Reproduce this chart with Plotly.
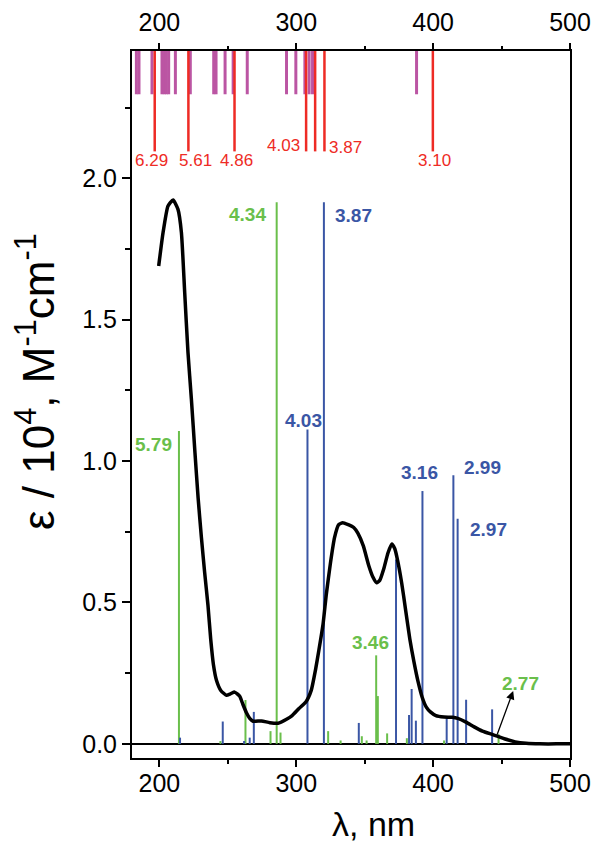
import plotly.graph_objects as go

# ---------------- data ----------------
spec_wl = [199.5, 202.7, 206.3, 210, 213.6, 216.1, 218.5, 220.9, 223.4, 226, 228.3, 230.7, 233,
           235.5, 237.5, 239.5, 241.7, 245, 249, 252, 255, 258.7, 261, 263.6, 266, 268.5, 274.6,
           280.7, 286.7, 292.9, 297, 302, 307, 311, 314, 316.5, 319.5, 322, 325, 328, 331, 334,
           338, 342, 345, 349, 353, 356, 358.7, 361, 364, 367, 369.8, 372, 374, 377, 380, 383,
           386, 389, 392, 395, 398, 402, 408, 414, 418, 424, 430, 436, 444, 452, 460, 468, 478,
           490, 500]
spec_eps = [1.690, 1.808, 1.902, 1.923, 1.890, 1.808, 1.596, 1.384, 1.218, 1.03, 0.87, 0.73, 0.61,
            0.49, 0.37, 0.28, 0.225, 0.188, 0.172, 0.177, 0.183, 0.168, 0.140, 0.110, 0.090, 0.080,
            0.081, 0.075, 0.073, 0.087, 0.100, 0.125, 0.148, 0.19, 0.26, 0.33, 0.42, 0.53, 0.64,
            0.73, 0.775, 0.782, 0.775, 0.765, 0.745, 0.70, 0.63, 0.59, 0.570, 0.578, 0.62, 0.675,
            0.707, 0.69, 0.65, 0.57, 0.47, 0.37, 0.29, 0.22, 0.165, 0.13, 0.113, 0.100, 0.095,
            0.094, 0.090, 0.077, 0.060, 0.045, 0.032, 0.018, 0.007, 0.002, 0.0, 0.0, 0.0]

green_wl = [214.3, 244.6, 262.9, 281.2, 285.7, 288.5, 323.3, 332.4, 347.9, 351.4, 358.4, 359.6,
            366.4, 380.8, 408.0, 447.8]
green_h = [1.106, 0.010, 0.155, 0.045, 1.915, 0.040, 0.045, 0.012, 0.027, 0.012, 0.313, 0.169,
           0.037, 0.020, 0.012, 0.034]

blue_wl = [215.1, 246.3, 261.9, 266.0, 269.0, 308.2, 320.2, 345.7, 372.9, 382.4, 384.3, 387.4,
           392.2, 409.9, 414.8, 417.9, 424.1, 443.1]
blue_h = [0.022, 0.079, 0.010, 0.022, 0.113, 1.112, 1.915, 0.074, 0.652, 0.102, 0.194, 0.082,
          0.894, 0.093, 0.950, 0.796, 0.156, 0.122]

red_wl = [196.6, 221.2, 254.9, 307.2, 313.8, 320.6, 399.8]
magenta_wl = [183.2, 185.1, 194.6, 201.9, 203.6, 205.1, 206.8, 211.7, 222.6, 239.7, 241.4, 248.0,
              253.9, 264.2, 292.9, 299.7, 306.3, 309.4, 311.9, 387.9]

red_labels = ["6.29", "5.61", "4.86", "4.03", "3.87", "3.10"]
red_label_x = [194.0, 226.4, 256.3, 290.4, 335.9, 401.3]
red_label_y = [2.063, 2.063, 2.063, 2.115, 2.110, 2.063]

green_labels = ["5.79", "4.34", "3.46", "2.77"]
green_label_x = [195.9, 264.2, 354.4, 463.5]
green_label_y = [1.060, 1.873, 0.358, 0.214]

blue_labels = ["3.87", "4.03", "3.16", "2.99", "2.97"]
blue_label_x = [342.1, 305.3, 390.1, 436.4, 440.5]
blue_label_y = [1.869, 1.142, 0.959, 0.977, 0.759]

x_ticks = [200, 300, 400, 500]
x_minor = [250, 350, 450]
y_ticks = [0.0, 0.5, 1.0, 1.5, 2.0]
y_minor = [0.25, 0.75, 1.25, 1.75, 2.25]

X_RANGE = [180, 500]
Y_RANGE = [-0.05, 2.45]
TOP = 2.45
RED_BOTTOM = 2.095
MAG_BOTTOM = 2.297

GREEN = "#6abf4b"
BLUE = "#3a56a5"
RED = "#ee2b25"
MAGENTA = "#bb55a3"
FONT = "Liberation Sans, Arial, sans-serif"


def sticks(xs, y0s, y1s):
    px, py = [], []
    for x, a, b in zip(xs, y0s, y1s):
        px += [x, x, None]
        py += [a, b, None]
    return px, py


fig = go.Figure()

gx, gy = sticks(green_wl, [0] * len(green_wl), green_h)
fig.add_trace(go.Scatter(x=gx, y=gy, mode="lines", line=dict(color=GREEN, width=2),
                         hoverinfo="skip", showlegend=False))
bx, by = sticks(blue_wl, [0] * len(blue_wl), blue_h)
fig.add_trace(go.Scatter(x=bx, y=by, mode="lines", line=dict(color=BLUE, width=2),
                         hoverinfo="skip", showlegend=False))
mx, my = sticks(magenta_wl, [TOP] * len(magenta_wl), [MAG_BOTTOM] * len(magenta_wl))
fig.add_trace(go.Scatter(x=mx, y=my, mode="lines", line=dict(color=MAGENTA, width=3),
                         xaxis="x2", hoverinfo="skip", showlegend=False))
rx, ry = sticks(red_wl, [TOP] * len(red_wl), [RED_BOTTOM] * len(red_wl))
fig.add_trace(go.Scatter(x=rx, y=ry, mode="lines", line=dict(color=RED, width=2.5),
                         xaxis="x2", hoverinfo="skip", showlegend=False))

fig.add_trace(go.Scatter(x=spec_wl, y=spec_eps, mode="lines",
                         line=dict(color="black", width=3.5, shape="spline", smoothing=0.5),
                         hoverinfo="skip", showlegend=False))

W, H = 593, 843
ML, MR, MT, MB = 132, 23, 51, 85
pw, ph = W - ML - MR, H - MT - MB


def page_to_paper(px, py):
    return (px - ML) / pw, (H - MB - py) / ph


ann = []
for t, x, y in zip(red_labels, red_label_x, red_label_y):
    ann.append(dict(x=x, y=y, text=t, showarrow=False, xref="x", yref="y",
                    font=dict(family=FONT, size=17, color=RED)))
for t, x, y in zip(green_labels, green_label_x, green_label_y):
    ann.append(dict(x=x, y=y, text="<b>" + t + "</b>", showarrow=False, xref="x", yref="y",
                    font=dict(family=FONT, size=19, color=GREEN)))
for t, x, y in zip(blue_labels, blue_label_x, blue_label_y):
    ann.append(dict(x=x, y=y, text="<b>" + t + "</b>", showarrow=False, xref="x", yref="y",
                    font=dict(family=FONT, size=19, color=BLUE)))
# arrow pointing to the 2.77 transition
ann.append(dict(x=458.5, y=0.187, ax=446.4, ay=0.028, xref="x", yref="y", axref="x", ayref="y",
                text="", showarrow=True, arrowhead=2, arrowsize=1.3, arrowwidth=1.3,
                arrowcolor="black"))
# axis titles
tx, ty = page_to_paper(373, 824)
ann.append(dict(x=tx, y=ty, xref="paper", yref="paper", text="λ, nm", showarrow=False,
                xanchor="center", yanchor="middle",
                font=dict(family=FONT, size=34, color="black")))
tx, ty = page_to_paper(36, 382)
ann.append(dict(x=tx, y=ty, xref="paper", yref="paper",
                text="ε / 10<sup>4</sup>, M<sup>-1</sup>cm<sup>-1</sup>",
                showarrow=False, textangle=-90, xanchor="center", yanchor="middle",
                font=dict(family=FONT, size=44, color="black")))

axis_font = dict(family=FONT, size=25, color="black")
common_x = dict(range=X_RANGE, tickmode="array", tickvals=x_ticks, ticks="outside", ticklen=7,
                tickwidth=2, tickcolor="black", showgrid=False, zeroline=False,
                tickfont=axis_font, automargin=False, ticklabeloverflow="allow",
                minor=dict(tickmode="array", tickvals=x_minor, ticks="outside", ticklen=4,
                           tickwidth=2, tickcolor="black", showgrid=False))

fig.update_layout(
    width=W, height=H,
    margin=dict(l=ML, r=MR, t=MT, b=MB, autoexpand=False),
    paper_bgcolor="white", plot_bgcolor="white",
    showlegend=False,
    font=dict(family=FONT, color="black"),
    xaxis=dict(**common_x, showline=True, linewidth=2, linecolor="black", mirror=True,
               ticklabelstandoff=-5),
    xaxis2=dict(**common_x, overlaying="x", side="top", anchor="y", showline=False,
                ticklabelstandoff=2),
    yaxis=dict(range=Y_RANGE, tickmode="array", tickvals=y_ticks,
               ticktext=["%.1f" % v for v in y_ticks], ticks="outside", ticklen=8, tickwidth=2,
               tickcolor="black", showline=True, linewidth=2, linecolor="black", mirror=True,
               showgrid=False, zeroline=True, zerolinecolor="black", zerolinewidth=2,
               tickfont=axis_font, ticklabelstandoff=0, automargin=False,
               ticklabeloverflow="allow",
               minor=dict(tickmode="array", tickvals=y_minor, ticks="outside", ticklen=5,
                          tickwidth=2, tickcolor="black", showgrid=False)),
    annotations=ann,
)

# remove the default page margin so the figure fills the window exactly; hide the modebar
fig.write_html("out.html",
               config={"displayModeBar": False},
               post_script="document.body.style.margin='0';document.body.style.overflow='hidden';")
